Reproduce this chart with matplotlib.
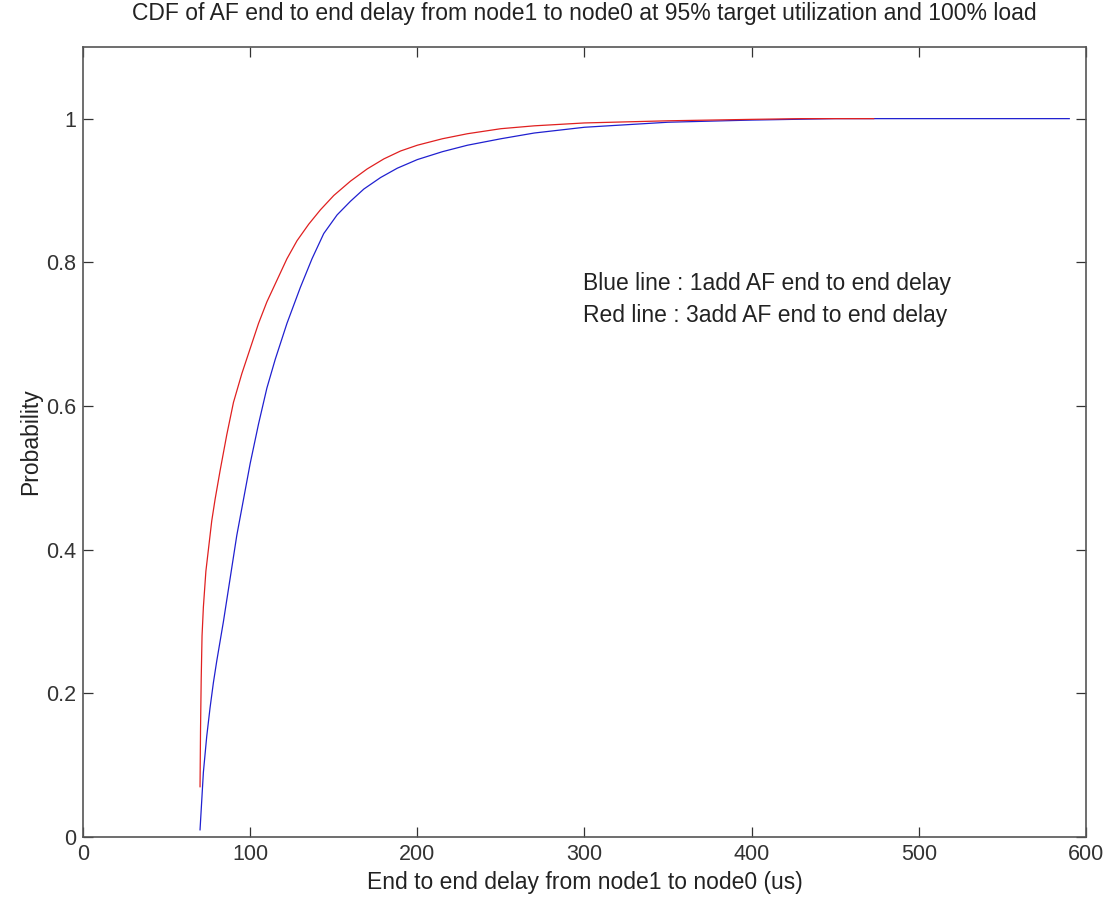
import matplotlib
matplotlib.use('Agg')
import matplotlib.pyplot as plt

plt.rcParams['font.family'] = ['Liberation Sans', 'DejaVu Sans']

# delay (us) vs cumulative probability
blue_x = [70, 71, 72, 74, 76, 78, 80, 84, 88, 92, 96, 100, 105, 110, 115, 122, 130, 137, 144, 152, 160, 168, 178, 188, 200, 215, 230, 250, 270, 300, 350, 400, 450, 590]
blue_y = [0.01, 0.05, 0.09, 0.14, 0.18, 0.215, 0.245, 0.30, 0.36, 0.42, 0.47, 0.52, 0.575, 0.625, 0.665, 0.715, 0.765, 0.805, 0.84, 0.866, 0.885, 0.902, 0.918, 0.931, 0.943, 0.954, 0.963, 0.972, 0.98, 0.988, 0.995, 0.998, 1.0, 1.0]

red_x = [70, 70.3, 70.7, 71.2, 72, 73.5, 75, 77, 79, 82, 86, 90, 95, 100, 105, 110, 116, 122, 128, 135, 142, 150, 160, 170, 180, 190, 200, 215, 230, 250, 270, 300, 350, 400, 430, 473]
red_y = [0.07, 0.15, 0.22, 0.28, 0.32, 0.37, 0.40, 0.44, 0.47, 0.51, 0.56, 0.605, 0.645, 0.68, 0.715, 0.745, 0.775, 0.805, 0.83, 0.853, 0.873, 0.893, 0.913, 0.93, 0.944, 0.955, 0.963, 0.972, 0.979, 0.986, 0.99, 0.994, 0.997, 0.999, 1.0, 1.0]

xticks = [0, 100, 200, 300, 400, 500, 600]
yticks = [0, 0.2, 0.4, 0.6, 0.8, 1]

fig = plt.figure(figsize=(11.07, 9), dpi=100)
ax = fig.add_axes([0.075, 0.07, 0.906, 0.878])

ax.plot(blue_x, blue_y, color='#2020d0', lw=0.9)
ax.plot(red_x, red_y, color='#e02020', lw=0.9)

ax.set_xlim(0, 600)
ax.set_ylim(0, 1.1)
ax.set_xticks(xticks)
ax.set_yticks(yticks)
ax.set_yticklabels(['0', '0.2', '0.4', '0.6', '0.8', '1'])
ax.tick_params(direction='in', length=7, width=0.9, top=True, right=True,
               labelsize=15.5, colors='#333333', pad=5)
for s in ax.spines.values():
    s.set_color('#555555')
    s.set_linewidth(1.2)

ax.set_xlabel('End to end delay from node1 to node0 (us)', fontsize=16.5, labelpad=4, color='#222222')
ax.set_ylabel('Probability', fontsize=16.5, labelpad=3, color='#222222')
ax.set_title('CDF of AF end to end delay from node1 to node0 at 95% target utilization and 100% load',
             fontsize=16.5, pad=19, color='#222222')

ax.text(299, 0.77, 'Blue line : 1add AF end to end delay', fontsize=16.5, va='center', color='#222222')
ax.text(299, 0.726, 'Red line : 3add AF end to end delay', fontsize=16.5, va='center', color='#222222')

fig.savefig('out.png', dpi=100)
